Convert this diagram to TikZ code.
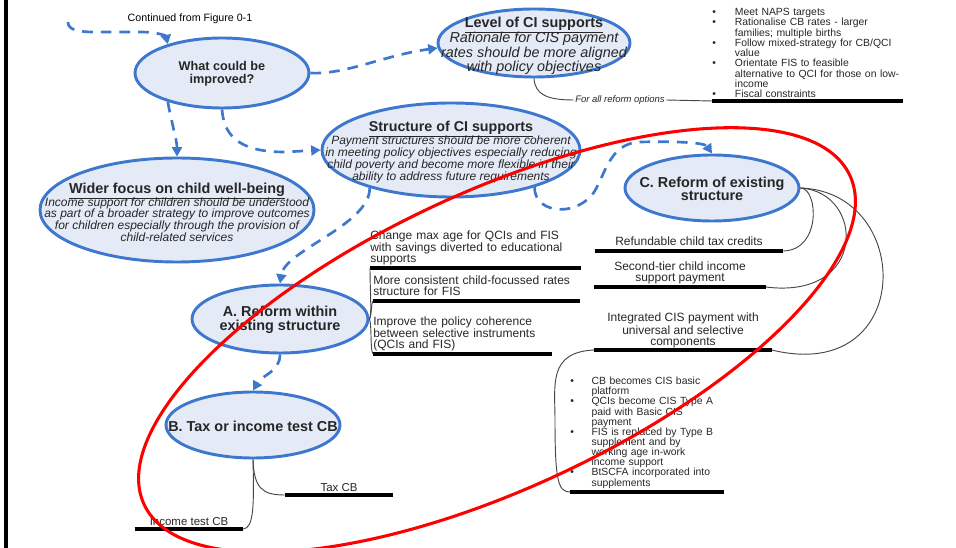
\documentclass[tikz,border=0pt]{standalone}
\usepackage{fontspec}
\setmainfont{Liberation Sans}
\usetikzlibrary{arrows.meta, shapes.geometric}
\definecolor{bubblue}{RGB}{62,120,206}
\definecolor{bubfill}{RGB}{228,235,247}
\definecolor{inkgray}{RGB}{70,70,70}

\begin{document}
\begin{tikzpicture}[
    x=0.75pt, y=-0.75pt,
    font=\fontsize{9}{8.8}\selectfont,
    bubble/.style={ellipse, draw=bubblue, fill=bubfill, line width=2.2pt, inner sep=0pt},
    bubtext/.style={align=center, inner sep=0pt, text=black!85},
    flow/.style={-{Triangle[length=7pt,width=7.5pt]}, draw=bubblue, line width=2pt, dash pattern=on 8pt off 6pt},
    link/.style={draw=inkgray, line width=0.7pt},
    underbar/.style={draw=black, line width=2.4pt},
    leaf/.style={align=center, inner xsep=0pt, inner ysep=1pt, anchor=south, text=black!85},
    opt/.style={align=left, inner xsep=0pt, inner ysep=1pt, anchor=south west, text=black!85},
    ring/.style={draw=red, line width=2.3pt}
]
\useasboundingbox (0,0) rectangle (956,548);

% 0. Page edge
\draw[line width=3pt] (6,0) -- (6,548);

% 1. Question bubbles
\node[font=\fontsize{8}{9}\selectfont] (contd) at (190,19) {Continued from Figure 0-1};
\node[bubble, minimum width=130.5pt, minimum height=52.5pt] (what) at (222,73) {};
\node[bubtext, font=\bfseries\fontsize{9.5}{10}\selectfont] (what-t) at (222,74) {What could be\\improved?};

\node[bubble, minimum width=144pt, minimum height=51pt] (level) at (534,43) {};
\node[bubtext, font=\itshape\fontsize{10.8}{10}\selectfont] (level-t) at (534,46) {{\upshape\bfseries\underline{Level of CI supports}}\\[-2pt]Rationale for CIS payment\\rates should be more aligned\\with policy objectives};

\node[bubble, minimum width=193.5pt, minimum height=70.5pt] (structure) at (451,150) {};
\node[bubtext, font=\itshape\fontsize{9}{9.2}\selectfont] (structure-t) at (451,152) {{\upshape\bfseries\fontsize{10.7}{10}\selectfont\underline{Structure of CI supports}}\\[-2pt]Payment structures should be more coherent\\in meeting policy objectives especially reducing\\child poverty and become more flexible in their\\ability to address future requirements};

\node[bubble, minimum width=205.5pt, minimum height=78pt] (wider) at (177,210) {};
\node[bubtext, font=\itshape\fontsize{9}{8.8}\selectfont] (wider-t) at (177,212) {{\upshape\bfseries\fontsize{10.8}{10}\selectfont\underline{Wider focus on child well-being}}\\[-2pt]Income support for children should be understood\\as part of a broader strategy to improve outcomes\\for children especially through the provision of\\child-related services};

% 2. Reform options
\node[bubble, minimum width=130.5pt, minimum height=49.5pt] (reformc) at (712,188) {};
\node[bubtext, font=\bfseries\fontsize{10.8}{10}\selectfont] (reformc-t) at (712,189) {C. Reform of existing\\structure};

\node[bubble, minimum width=132pt, minimum height=51pt] (reforma) at (280,319) {};
\node[bubtext, font=\bfseries\fontsize{10.8}{10.5}\selectfont] (reforma-t) at (280,320) {A. Reform within\\existing structure};

\node[bubble, minimum width=130.5pt, minimum height=49.5pt] (reformb) at (253,425) {};
\node[bubtext, font=\bfseries\fontsize{10.8}{10}\selectfont] (reformb-t) at (253,426) {B. Tax or income test CB};

% 3. Underlined items
\node[opt, text width=143pt, inner ysep=0pt, font=\fontsize{7.8}{7.7}\selectfont] (naps) at (712,101) {%
  \makebox[17pt][l]{\textbullet}Meet NAPS targets\\
  \makebox[17pt][l]{\textbullet}Rationalise CB rates - larger\\
  \hspace*{17pt}families; multiple births\\
  \makebox[17pt][l]{\textbullet}Follow mixed-strategy for CB/QCI\\
  \hspace*{17pt}value\\
  \makebox[17pt][l]{\textbullet}Orientate FIS to feasible\\
  \hspace*{17pt}\mbox{alternative to QCI for those on low-}\\
  \hspace*{17pt}income\\
  \makebox[17pt][l]{\textbullet}Fiscal constraints\strut};
\node[font=\itshape\fontsize{7.1}{8}\selectfont, inner xsep=1pt, inner ysep=0pt, text=black!85] (forall) at (620,100) {For all reform options};

\node[opt, text width=157.5pt] (optage) at (370,268) {Change max age for QCIs and FIS\\with savings diverted to educational\\supports\strut};
\node[opt, text width=155pt] (optrate) at (373,301) {More consistent child-focussed rates\\structure for FIS\strut};
\node[opt, text width=133.5pt] (optcoh) at (373,354) {Improve the policy coherence\\between selective instruments\\(QCIs and FIS)\strut};

\node[leaf, minimum width=141pt] (refund) at (689,251) {Refundable child tax credits\strut};
\node[leaf, minimum width=128.25pt] (second) at (680,287) {Second-tier child income\\support payment\strut};
\node[leaf, minimum width=132.75pt, font=\fontsize{9}{8.3}\selectfont] (integ) at (683,350) {Integrated CIS payment with\\universal and selective\\components\strut};
\node[opt, text width=115pt, inner ysep=2pt, font=\fontsize{7.8}{7.6}\selectfont] (cislist) at (570,492) {%
  \makebox[16pt][l]{\textbullet}CB becomes CIS basic\\
  \hspace*{16pt}platform\\
  \makebox[16pt][l]{\textbullet}QCIs become CIS Type A\\
  \hspace*{16pt}paid with Basic CIS\\
  \hspace*{16pt}payment\\
  \makebox[16pt][l]{\textbullet}FIS is replaced by Type B\\
  \hspace*{16pt}supplement and by\\
  \hspace*{16pt}working age in-work\\
  \hspace*{16pt}income support\\
  \makebox[16pt][l]{\textbullet}BtSCFA incorporated into\\
  \hspace*{16pt}supplements\strut};

\node[leaf, minimum width=81pt, inner ysep=0pt, font=\fontsize{8.6}{9}\selectfont] (taxcb) at (339,495) {Tax CB\strut};
\node[leaf, minimum width=81pt, inner ysep=0pt, font=\fontsize{8.6}{9}\selectfont] (inccb) at (189,529) {Income test CB\strut};

\foreach \n in {naps, optage, optrate, optcoh, refund, second, integ, cislist, taxcb, inccb}
  \draw[underbar] (\n.south west) -- (\n.south east);

% 4. Dashed flows
\coordinate (from01) at (68,22);
\draw[flow] (from01) .. controls (68,30) and (78,32) .. (95,32) -- (140,32) .. controls (158,32) and (166,36) .. (what.152);
\draw[flow] (what.east) .. controls (345,75) and (385,55) .. (level.183);
\draw[flow] (what.208) .. controls (172,125) and (177,140) .. (wider.north);
\draw[flow] (what.south) .. controls (224,140) and (245,152) .. (285,152) -- (structure.west);
\draw[flow] (structure.205) .. controls (370,225) and (285,250) .. (reforma.north);
\draw[flow] (structure.336) .. controls (534,212) and (572,218) .. (592,195) .. controls (605,178) and (608,143) .. (640,142) .. controls (680,141) and (705,143) .. (reformc.north);
\draw[flow] (reforma.south) .. controls (280,372) and (262,375) .. (reformb.north);

% 5. Thin connectors
\draw[link] (level.south) .. controls (535,95) and (548,100) .. (forall.west);
\draw[link] (forall.east) -- (naps.south west);
\draw[link] (reforma.east) .. controls (372,316) and (370,290) .. (optage.south west);
\draw[link] (reforma.east) .. controls (372,314) and (371,303) .. (optrate.south west);
\draw[link] (reforma.east) .. controls (372,326) and (370,350) .. (optcoh.south west);
\draw[link] (reformc.east) .. controls (818,188) and (822,250) .. (refund.south east);
\draw[link] (reformc.east) .. controls (865,192) and (868,300) .. (second.south east);
\draw[link] (reformc.east) .. controls (915,192) and (915,385) .. (integ.south east);
\draw[link] (integ.south west) .. controls (548,352) and (555,385) .. (555,420) .. controls (555,480) and (558,492) .. (cislist.south west);
\draw[link] (reformb.south) .. controls (254,488) and (262,495) .. (taxcb.south west);
\draw[link] (reformb.south) .. controls (254,505) and (254,528) .. (inccb.south east);

% 6. Highlight ring
\draw[ring, rotate around={25:(497,340)}] (497,340) ellipse [x radius=292pt, y radius=111pt];

\end{tikzpicture}
\end{document}
